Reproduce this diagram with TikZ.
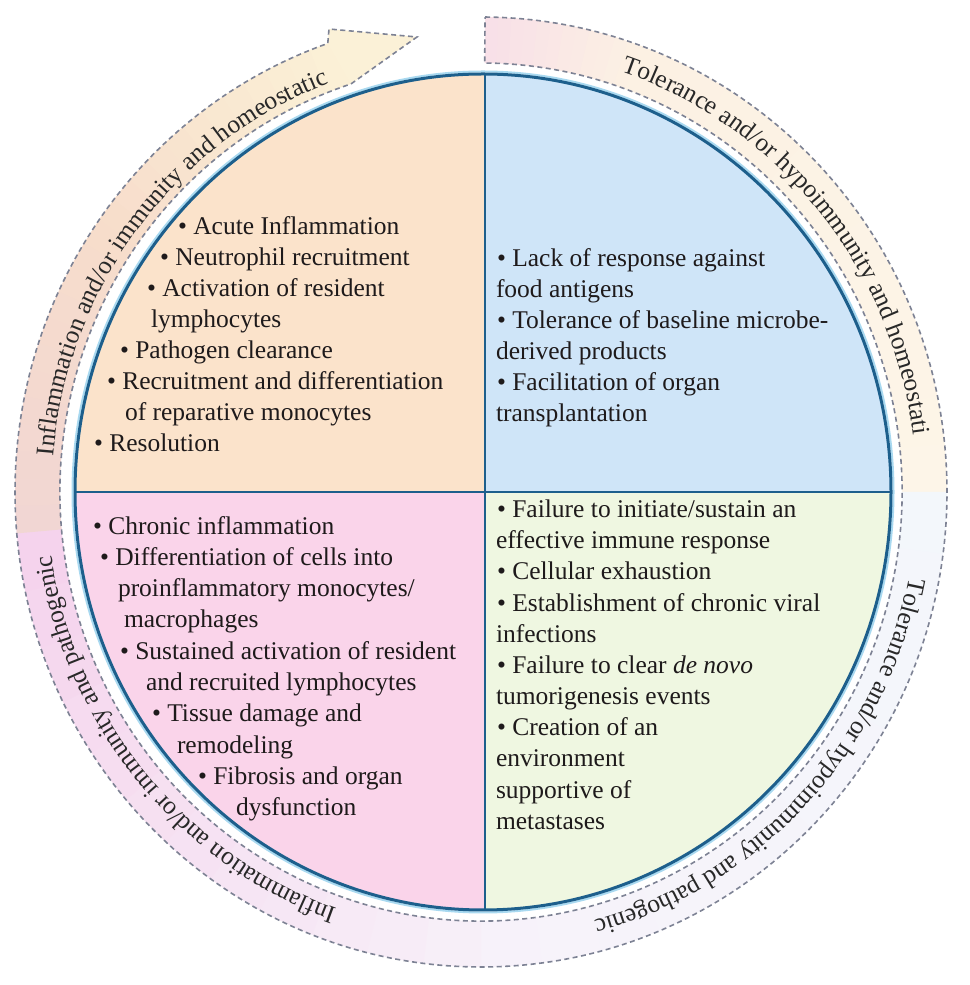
\documentclass[tikz,border=0pt]{standalone}
\usepackage{fontspec}
\setmainfont{Liberation Serif}
\usetikzlibrary{decorations.text}
\definecolor{qpeach}{HTML}{FBE3CB}
\definecolor{qblue}{HTML}{CFE5F8}
\definecolor{qpink}{HTML}{FAD4EA}
\definecolor{qgreen}{HTML}{EFF7E1}
\definecolor{circblue}{HTML}{1D5F8C}
\definecolor{halo}{HTML}{A9D9F0}
\definecolor{dashgrey}{HTML}{7D8294}
\definecolor{txt}{HTML}{1E1A1B}
\definecolor{rtxt}{HTML}{282828}
\definecolor{rpink}{HTML}{F8DFE8}
\definecolor{rcream}{HTML}{FCF1E3}
\definecolor{rcreamb}{HTML}{FDF5E8}
\definecolor{rwhiteblue}{HTML}{F3F7FB}
\definecolor{rlav}{HTML}{F7F2FA}
\definecolor{rlavb}{HTML}{F7F0F8}
\definecolor{rpinkb}{HTML}{F5D2EC}
\definecolor{rpeachpink}{HTML}{F1D6D3}
\definecolor{rpeach}{HTML}{F7DDCB}
\definecolor{ryellow}{HTML}{FBF1D7}
\newcommand\qfont{\fontsize{25.5}{31}\selectfont}
\newcommand\ringband[4]{%
  \foreach \k in {0,...,11}{%
    \pgfmathsetmacro\angA{(#1)+((#2)-(#1))*\k/12}%
    \pgfmathsetmacro\angB{(#1)+((#2)-(#1))*(\k+1)/12-0.5}%
    \pgfmathtruncatemacro\mixp{100*(\k+0.5)/12}%
    \fill[#4!\mixp!#3] (\angA:466pt and 475pt) arc[start angle=\angA, end angle=\angB, x radius=466pt, y radius=475pt]
      -- (\angB:421pt and 429pt) arc[start angle=\angB, end angle=\angA, x radius=421pt, y radius=429pt] -- cycle;
  }%
}
\begin{document}
\begin{tikzpicture}[x=1pt,y=1pt,
  qtext/.style={anchor=base west, inner sep=0pt, outer sep=0pt, font=\qfont, text=txt},
  dashline/.style={draw=dashgrey, line width=1.6pt, dash pattern=on 5pt off 3.5pt},
  ringtext/.style={decorate, decoration={text along path, text align=center, text color=rtxt, text={|\qfont|#1}}}]
\useasboundingbox (0,0) rectangle (969,985);
% ring arrow
\begin{scope}[shift={(481,493)}]
  \ringband{89.5}{70}{rpink}{rcream}
  \ringband{70}{0}{rcream}{rcreamb}
  \ringband{0}{-90}{rwhiteblue}{rlav}
  \ringband{-90}{-175}{rlavb}{rpinkb}
  \ringband{-175}{-215}{rpeachpink}{rpeach}
  \ringband{-215}{-251.5}{rpeach}{ryellow}
  \fill[ryellow] (109.2:466pt and 475pt) -- (-152,463) -- (-64,455) -- (108:421pt and 429pt) -- cycle;
  \path[dashline] (89.5:466pt and 475pt) arc[start angle=89.5, end angle=-250.8, x radius=466pt, y radius=475pt]
    -- (-152,463) -- (-64,455) -- (108:421pt and 429pt)
    arc[start angle=108, end angle=449.5, x radius=421pt, y radius=429pt] -- cycle;
  \path[ringtext={Inflammation and/or immunity and homeostatic}]
    (183:429pt and 437pt) arc[start angle=183, end angle=103, x radius=429pt, y radius=437pt];
  \path[ringtext={Tolerance and/or hypoimmunity and homeostati}]
    (79.4:436pt and 444pt) arc[start angle=79.4, end angle=-0.6, x radius=436pt, y radius=444pt];
  \path[ringtext={Tolerance and/or hypoimmunity and pathogenic}]
    (-3.1:436pt and 444pt) arc[start angle=-3.1, end angle=-83.1, x radius=436pt, y radius=444pt];
  \path[ringtext={Inflammation and/or immunity and pathogenic}]
    (-100.5:434pt and 442pt) arc[start angle=-100.5, end angle=-180.5, x radius=434pt, y radius=442pt];
\end{scope}
% circle quadrants
\begin{scope}
  \clip (483,493) ellipse[x radius=408pt, y radius=418pt];
  \fill[qpeach] (0,493) rectangle (485,985);
  \fill[qblue] (485,493) rectangle (969,985);
  \fill[qpink] (0,0) rectangle (485,493);
  \fill[qgreen] (485,0) rectangle (969,493);
  \draw[circblue, line width=2.8pt] (485,0) -- (485,985);
  \draw[circblue, line width=2.8pt] (0,493) -- (969,493);
\end{scope}
\draw[halo, line width=2pt] (483,493) ellipse[x radius=410.5pt, y radius=420.5pt];
\draw[circblue, line width=3pt] (483,493) ellipse[x radius=408pt, y radius=418pt];
% top-left
\node[qtext] (tla) at (178,750) {• Acute Inflammation};
\node[qtext] (tlb) at (160,719) {• Neutrophil recruitment};
\node[qtext] (tlc) at (147,688) {• Activation of resident};
\node[qtext] (tld) at (151,657) {lymphocytes};
\node[qtext] (tle) at (120,626) {• Pathogen clearance};
\node[qtext] (tlf) at (107,595) {• Recruitment and differentiation};
\node[qtext] (tlg) at (125,564) {of reparative monocytes};
\node[qtext] (tlh) at (94,533) {• Resolution};
% top-right
\node[qtext] (tra) at (497,718) {• Lack of response against};
\node[qtext] (trb) at (496,687) {food antigens};
\node[qtext] (trc) at (497,656) {• Tolerance of baseline microbe-};
\node[qtext] (trd) at (496,625) {derived products};
\node[qtext] (tre) at (497,594) {• Facilitation of organ};
\node[qtext] (trf) at (496,563) {transplantation};
% bottom-right
\node[qtext] (bra) at (497,467) {• Failure to initiate/sustain an};
\node[qtext] (brb) at (496,436) {effective immune response};
\node[qtext] (brc) at (497,405) {• Cellular exhaustion};
\node[qtext] (brd) at (497,373) {• Establishment of chronic viral};
\node[qtext] (bre) at (496,342) {infections};
\node[qtext] (brf) at (497,311) {• Failure to clear \textit{de novo}};
\node[qtext] (brg) at (496,280) {tumorigenesis events};
\node[qtext] (brh) at (497,249) {• Creation of an};
\node[qtext] (bri) at (496,218) {environment};
\node[qtext] (brj) at (496,186) {supportive of};
\node[qtext] (brk) at (496,155) {metastases};
% bottom-left
\node[qtext] (bla) at (93,450) {• Chronic inflammation};
\node[qtext] (blb) at (100,419) {• Differentiation of cells into};
\node[qtext] (blc) at (118,388) {proinflammatory monocytes/};
\node[qtext] (bld) at (124,357) {macrophages};
\node[qtext] (ble) at (120,325) {• Sustained activation of resident};
\node[qtext] (blf) at (146,294) {and recruited lymphocytes};
\node[qtext] (blg) at (152,263) {• Tissue damage and};
\node[qtext] (blh) at (177,231) {remodeling};
\node[qtext] (bli) at (198,200) {• Fibrosis and organ};
\node[qtext] (blj) at (236,169) {dysfunction};
\end{tikzpicture}
\end{document}
